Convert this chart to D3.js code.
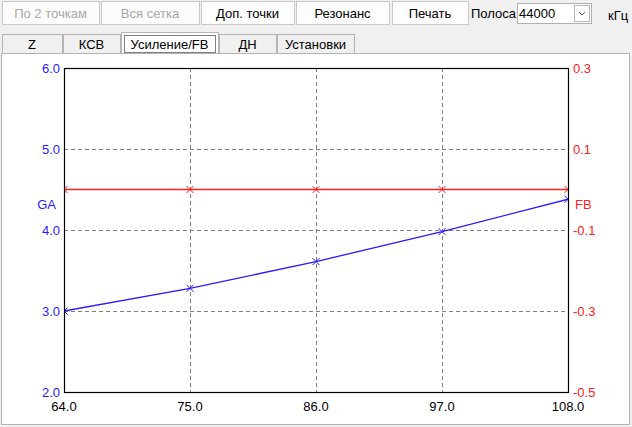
<!DOCTYPE html>
<html>
<head>
<meta charset="utf-8">
<script src="https://cdn.jsdelivr.net/npm/d3@7"></script>
<style>
  body { margin: 0; background: #f0f0f0; }
  svg { display: block; font-family: 'Liberation Sans', Arial, sans-serif; }
</style>
</head>
<body>
<div id="chart"></div>
<script>
const freqs = [64, 75, 86, 97, 108]
const gaValues = [3.0, 3.28, 3.61, 3.98, 4.38]
const fbValues = [0, 0, 0, 0, 0]
const gaTicks = [2, 3, 4, 5, 6]
const fbTicks = [-0.5, -0.3, -0.1, 0.1, 0.3]
const buttons = ['По 2 точкам', 'Вся сетка', 'Доп. точки', 'Резонанс', 'Печать']
const tabs = ['Z', 'КСВ', 'Усиление/FB', 'ДН', 'Установки']

const W = 632, H = 427
const plot = { left: 64, right: 568, top: 68, bottom: 392 }

const svg = d3.select('#chart').append('svg')
    .attr('width', W).attr('height', H)

svg.append('rect').attr('width', W).attr('height', H).attr('fill', '#f0f0f0')

// toolbar buttons
const btnX = [[2, 99], [101, 199], [201, 294], [296, 389], [392, 468]]
buttons.forEach((b, i) => {
    const [x0, x1] = btnX[i]
    svg.append('rect')
        .attr('x', x0 + 0.5).attr('y', 1.5)
        .attr('width', x1 - x0).attr('height', 23)
        .attr('fill', i < 2 ? '#fcfcfc' : '#fdfdfd')
        .attr('stroke', '#c8c8c8')
    svg.append('text')
        .attr('x', (x0 + x1) / 2).attr('y', 18)
        .attr('text-anchor', 'middle')
        .attr('font-size', 13)
        .attr('fill', i < 2 ? '#a8a8a8' : '#000')
        .text(b)
})

svg.append('text').attr('x', 471).attr('y', 18).attr('font-size', 13).text('Полоса')
svg.append('rect').attr('x', 517.5).attr('y', 3.5).attr('width', 74).attr('height', 20)
    .attr('fill', '#fff').attr('stroke', '#b0b0b0')
svg.append('text').attr('x', 519).attr('y', 18).attr('font-size', 13).text('44000')
svg.append('rect').attr('x', 574.5).attr('y', 5.5).attr('width', 15).attr('height', 16)
    .attr('fill', '#fff').attr('stroke', '#b8b8b8')
svg.append('path').attr('d', 'M579,12 L582,15 L585,12').attr('fill', 'none').attr('stroke', '#555')
svg.append('text').attr('x', 608).attr('y', 20).attr('font-size', 13).text('кГц')

// panel
svg.append('rect').attr('x', 1.5).attr('y', 53.5).attr('width', 628).attr('height', 371)
    .attr('fill', '#fff').attr('stroke', '#b4b4b4')

// tabs
const tabX = [[2, 62], [63, 120], [121, 218], [219, 276], [277, 354]]
tabs.forEach((t, i) => {
    const [x0, x1] = tabX[i]
    const sel = i === 2
    svg.append('rect')
        .attr('x', x0 + 0.5).attr('y', sel ? 32.5 : 34.5)
        .attr('width', x1 - x0).attr('height', sel ? 21 : 19)
        .attr('fill', sel ? '#fff' : '#f0f0f0')
        .attr('stroke', '#b4b4b4')
    svg.append('text')
        .attr('x', (x0 + x1) / 2).attr('y', 49)
        .attr('text-anchor', 'middle')
        .attr('font-size', 13)
        .text(t)
    if (sel) {
        svg.append('rect').attr('x', x0 + 3.5).attr('y', 35.5)
            .attr('width', x1 - x0 - 6).attr('height', 17)
            .attr('fill', 'none').attr('stroke', '#000')
            .attr('stroke-dasharray', '1,1')
    }
})

// scales
const x = d3.scaleLinear().domain([64, 108]).range([plot.left, plot.right])
const yGA = d3.scaleLinear().domain([2, 6]).range([plot.bottom, plot.top])
const yFB = d3.scaleLinear().domain([-0.5, 0.3]).range([plot.bottom, plot.top])

const g = svg.append('g')

// grid
g.selectAll('.vgrid').data(freqs.slice(1, -1)).enter().append('line')
    .attr('x1', d => Math.round(x(d)) + 0.5).attr('x2', d => Math.round(x(d)) + 0.5)
    .attr('y1', plot.top).attr('y2', plot.bottom)
    .attr('stroke', '#808080').attr('stroke-dasharray', '4,3')
g.selectAll('.hgrid').data(gaTicks.slice(1, -1)).enter().append('line')
    .attr('y1', d => Math.round(yGA(d)) + 0.5).attr('y2', d => Math.round(yGA(d)) + 0.5)
    .attr('x1', plot.left).attr('x2', plot.right)
    .attr('stroke', '#808080').attr('stroke-dasharray', '4,3')

svg.append('clipPath').attr('id', 'clip').append('rect')
    .attr('x', plot.left).attr('y', plot.top)
    .attr('width', plot.right - plot.left).attr('height', plot.bottom - plot.top)

const series = [
    { vals: fbValues, y: yFB, color: '#ff2020' },
    { vals: gaValues, y: yGA, color: '#2a1aff' }
]
series.forEach(s => {
    const pts = freqs.map((f, i) => [x(f), s.y(s.vals[i])])
    const sg = g.append('g').attr('clip-path', 'url(#clip)')
    sg.append('path')
        .attr('d', d3.line()(pts))
        .attr('fill', 'none').attr('stroke', s.color).attr('stroke-width', 1.3)
    sg.selectAll('path.m').data(pts).enter().append('path')
        .attr('class', 'm')
        .attr('d', p => `M${p[0] - 3.5},${p[1] - 3.5}L${p[0] + 3.5},${p[1] + 3.5}M${p[0] - 3.5},${p[1] + 3.5}L${p[0] + 3.5},${p[1] - 3.5}`)
        .attr('stroke', s.color).attr('stroke-width', 1)
})

// frame
g.append('rect').attr('x', plot.left + 0.5).attr('y', plot.top + 0.5)
    .attr('width', plot.right - plot.left).attr('height', plot.bottom - plot.top)
    .attr('fill', 'none').attr('stroke', '#000').attr('stroke-width', 1.2)

// axes labels
const axisFont = 13
g.selectAll('.gal').data(gaTicks).enter().append('text')
    .attr('x', 60).attr('y', d => yGA(d) + 5)
    .attr('text-anchor', 'end').attr('font-size', axisFont).attr('fill', '#2a1aff')
    .text(d => d3.format('.1f')(d))
g.selectAll('.fbl').data(fbTicks).enter().append('text')
    .attr('x', 573).attr('y', d => yFB(d) + 5)
    .attr('font-size', axisFont).attr('fill', '#ff2020')
    .text(d => d3.format('.1f')(d).replace('−', '-'))
g.selectAll('.xl').data(freqs).enter().append('text')
    .attr('x', d => x(d)).attr('y', 411)
    .attr('text-anchor', 'middle').attr('font-size', axisFont).attr('fill', '#000')
    .text(d => d3.format('.1f')(d))

svg.append('text').attr('x', 56).attr('y', 209).attr('text-anchor', 'end')
    .attr('font-size', axisFont).attr('fill', '#2a1aff').text('GA')
svg.append('text').attr('x', 575).attr('y', 209)
    .attr('font-size', axisFont).attr('fill', '#ff2020').text('FB')
</script>
</body>
</html>
